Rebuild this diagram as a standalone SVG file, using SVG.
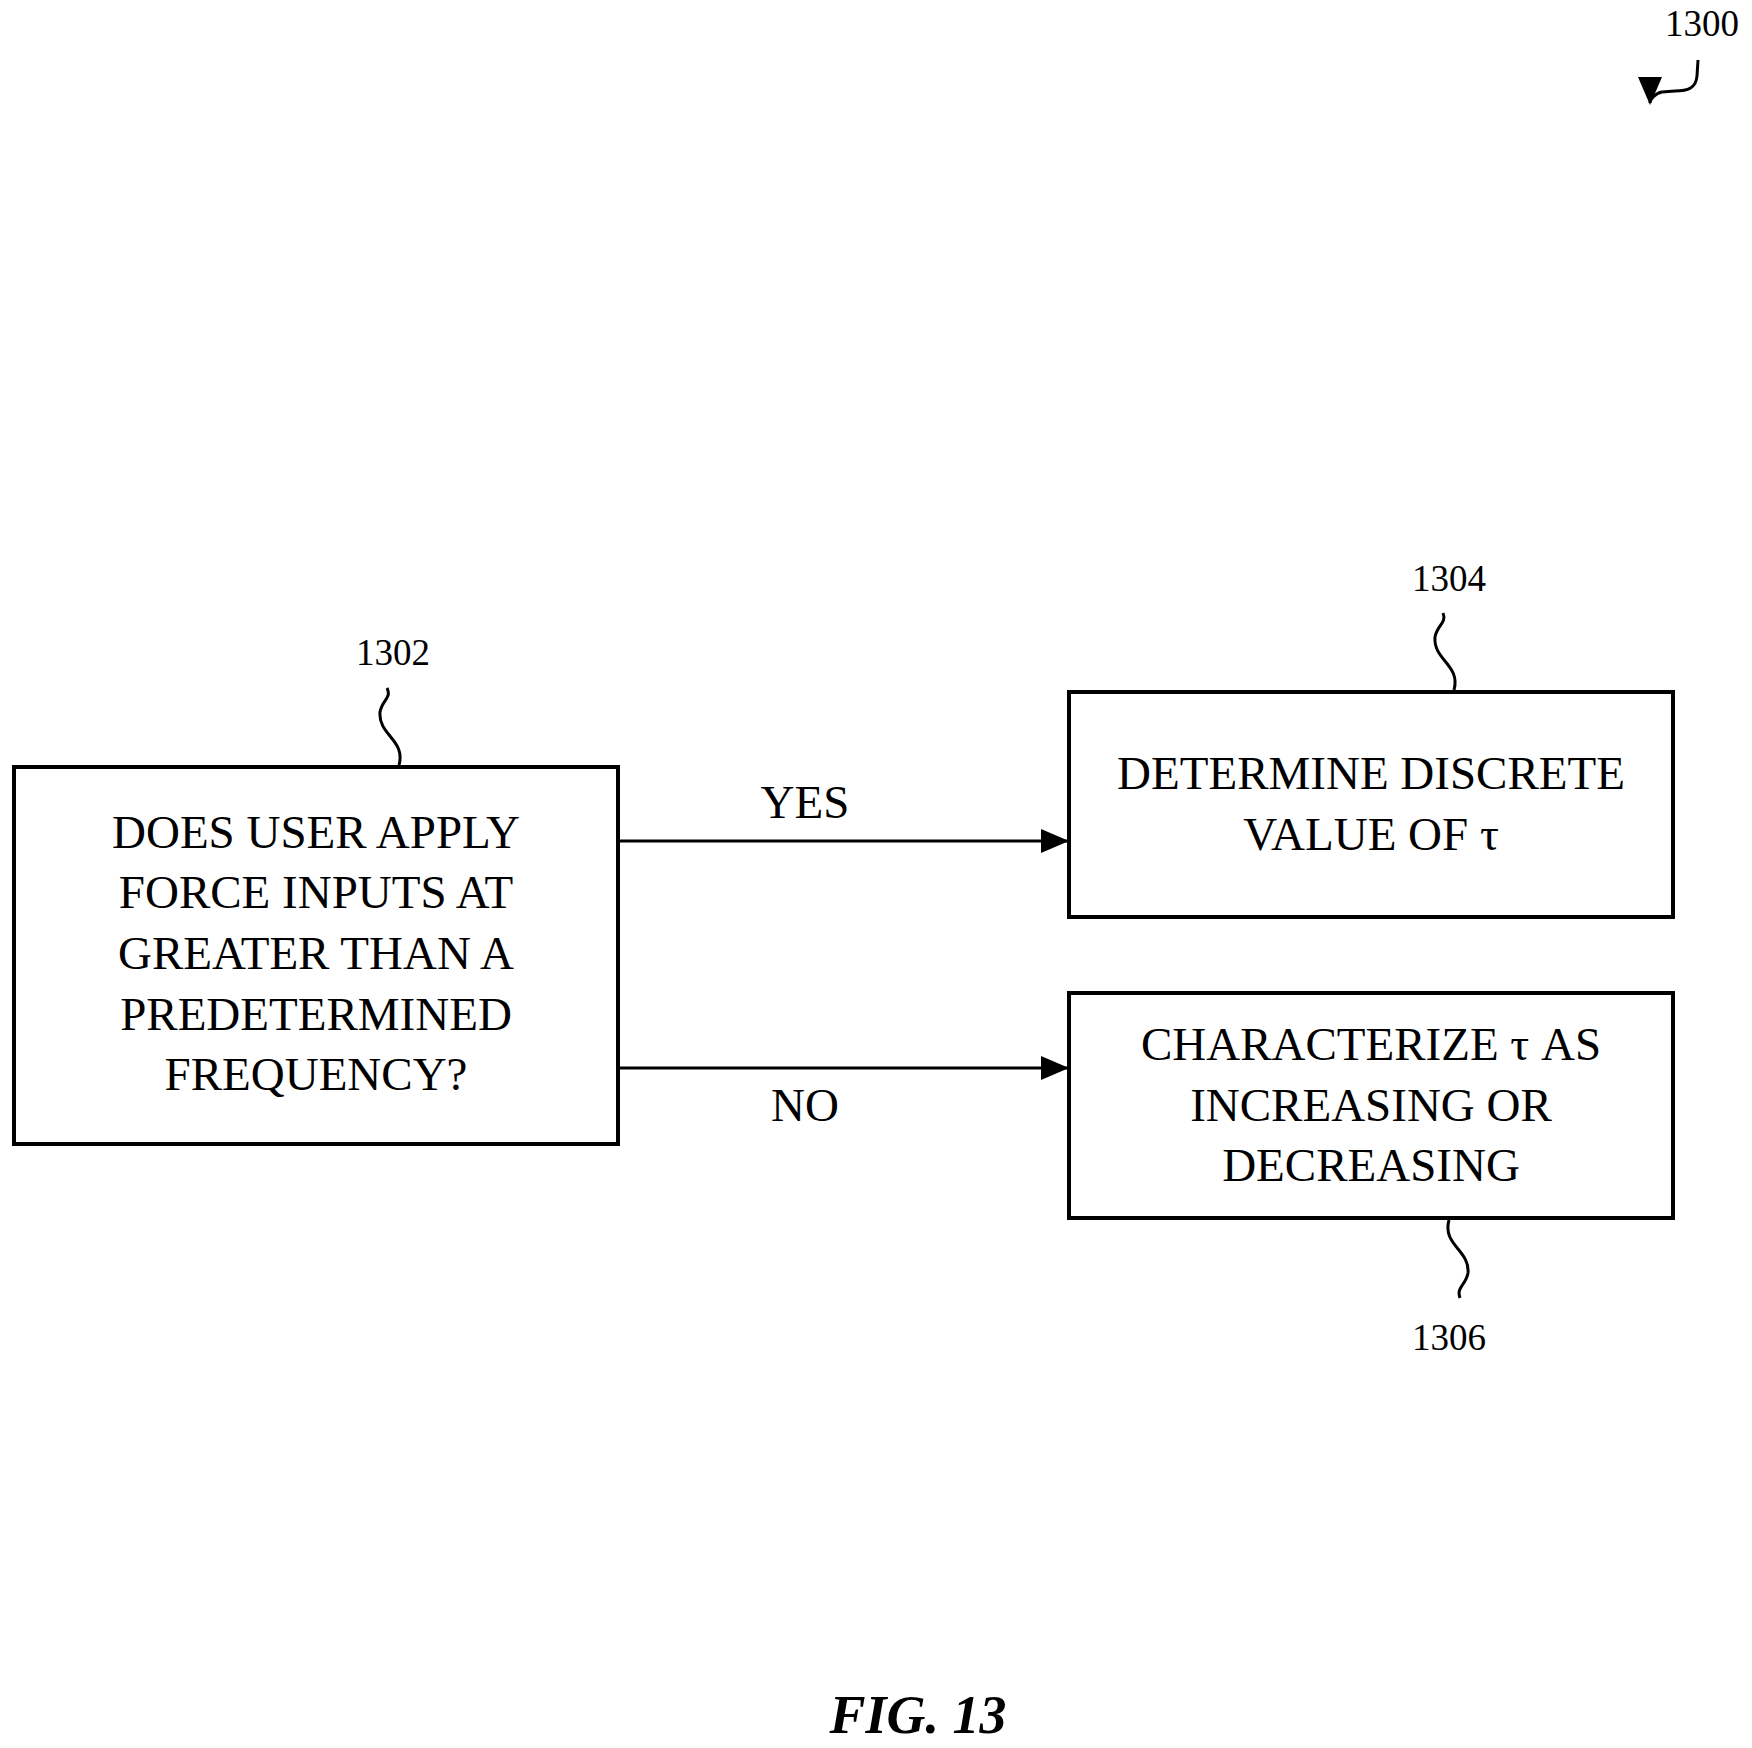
<svg xmlns="http://www.w3.org/2000/svg" width="1752" height="1748" viewBox="0 0 1752 1748">
<style>
text{font-family:"Liberation Serif",serif;fill:#000;text-anchor:middle}
.t{font-size:47px}
.r{font-size:37px}
.box{fill:#fff;stroke:#000;stroke-width:4}
.ln{fill:none;stroke:#000;stroke-width:3}
</style>
<defs><marker id="a" markerWidth="10" markerHeight="10" refX="9" refY="5" orient="auto" markerUnits="userSpaceOnUse" viewBox="0 0 10 10"><path d="M0,0 L10,5 L0,10 z"/></marker>
<marker id="b" markerWidth="28" markerHeight="28" refX="26" refY="14" orient="auto" markerUnits="userSpaceOnUse"><path d="M0,2 L28,14 L0,26 z"/></marker></defs>
<rect width="1752" height="1748" fill="#fff"/>
<g id="connectors">
<line class="ln" x1="618" y1="841" x2="1067" y2="841" marker-end="url(#b)"/>
<line class="ln" x1="618" y1="1068" x2="1067" y2="1068" marker-end="url(#b)"/>
<text class="t" x="805" y="818">YES</text>
<text class="t" x="805" y="1121">NO</text>
</g>
<g id="n1302">
<rect class="box" x="14" y="767" width="604" height="377"/>
<text class="t" x="316" y="848">DOES USER APPLY</text>
<text class="t" x="316" y="908">FORCE INPUTS AT</text>
<text class="t" x="316" y="969">GREATER THAN A</text>
<text class="t" x="316" y="1030">PREDETERMINED</text>
<text class="t" x="316" y="1090">FREQUENCY?</text>
<path class="ln" d="M399,765 C406,740 378,735 380,712 C382,700 392,698 387,688"/>
<text class="r" x="393" y="665">1302</text>
</g>
<g id="n1304">
<rect class="box" x="1069" y="692" width="604" height="225"/>
<text class="t" x="1371" y="789">DETERMINE DISCRETE</text>
<text class="t" x="1371" y="850">VALUE OF τ</text>
<path class="ln" d="M1454,690 C1461,665 1433,660 1435,637 C1437,625 1447,623 1443,613"/>
<text class="r" x="1449" y="591">1304</text>
</g>
<g id="n1306">
<rect class="box" x="1069" y="993" width="604" height="225"/>
<text class="t" x="1371" y="1060">CHARACTERIZE τ AS</text>
<text class="t" x="1371" y="1121">INCREASING OR</text>
<text class="t" x="1371" y="1181">DECREASING</text>
<path class="ln" d="M1449,1220 C1442,1245 1470,1250 1468,1273 C1466,1285 1456,1287 1460,1298"/>
<text class="r" x="1449" y="1350">1306</text>
</g>
<g id="fig">
<text class="r" x="1702" y="36">1300</text>
<path class="ln" d="M1698,60 L1697,76 C1696,88 1688,91 1675,91 L1662,92 C1655,93 1650,100 1650,103" marker-end="url(#b)"/>
<text x="918" y="1733" style="font-size:54px;font-weight:bold;font-style:italic">FIG. 13</text>
</g>
</svg>
